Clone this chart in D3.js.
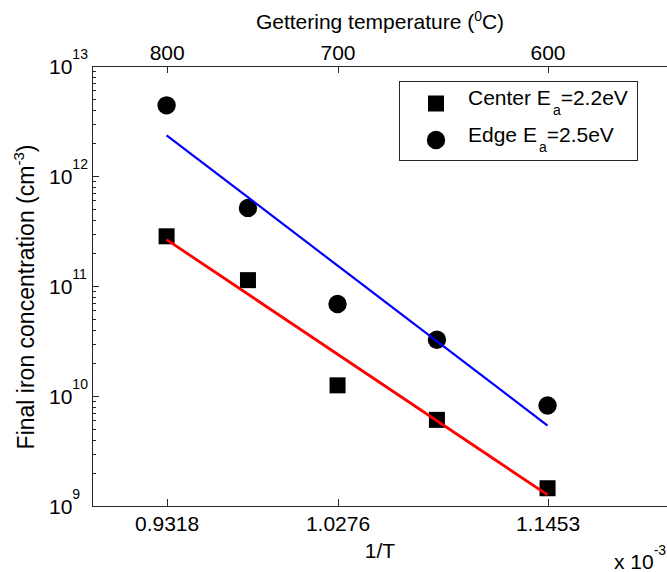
<!DOCTYPE html>
<html><head><meta charset="utf-8">
<script src="https://cdn.jsdelivr.net/npm/d3@7"></script>
<style>
body{margin:0;background:#fff}
text{font-family:"Liberation Sans",Arial,Helvetica,sans-serif;fill:#000}
</style>
</head><body><svg id="c" width="667" height="572"></svg>
<script>
// 1/T values (x 10^-3 K^-1)
const invT = [0.9318, 0.9774, 1.0276, 1.0833, 1.1453];
// Final iron concentration (cm^-3)
const centerFe = [2.83e11, 1.13e11, 1.25e10, 6.07e9, 1.45e9];
const edgeFe   = [4.39e12, 5.13e11, 6.86e10, 3.25e10, 8.19e9];
// Arrhenius fit lines (end points)
const fitX      = [0.9318, 1.1453];
const centerFit = [2.64e11, 1.26e9];
const edgeFit   = [2.34e12, 5.39e9];
// ticks
const xTicks = [0.9318, 1.0276, 1.1453];
const xTickLabels = ["0.9318", "1.0276", "1.1453"];
const tempTicks = [800, 700, 600];
const yTicks = [1e9, 1e10, 1e11, 1e12, 1e13];
const yTickExp = ["9", "10", "11", "12", "13"];
const xDomain = [0.89, 1.2128];
const yDomain = [1e9, 1e13];

const L = 92, T = 66, R = 668, B = 506;
const FS = 21;
const svg = d3.select("#c");
const x = d3.scaleLinear().domain(xDomain).range([L, R]);
const y = d3.scaleLog().domain(yDomain).range([B, T]);
const axisColor = "#262626";

// bottom axis
const gx = svg.append("g").attr("transform", `translate(0,${B})`)
  .call(d3.axisBottom(x).tickValues(xTicks).tickFormat((d, i) => xTickLabels[i]).tickSizeInner(-7).tickSizeOuter(0));
gx.selectAll("text").attr("y", 25).attr("dy", null).style("font-size", FS + "px").style("font-family", null);
// top axis (temperature)
const gt = svg.append("g").attr("transform", `translate(0,${T})`)
  .call(d3.axisTop(x).tickValues(tempTicks.map(t => 1000 / (t + 273.15))).tickFormat((d, i) => tempTicks[i]).tickSizeInner(-7).tickSizeOuter(0));
gt.selectAll("text").attr("y", -6).attr("dy", null).style("font-size", FS + "px").style("font-family", null);
// left axis major / minor
const minor = [];
yTicks.slice(0, -1).forEach(v => { for (let k = 2; k <= 9; k++) minor.push(v * k); });
const gy = svg.append("g").attr("transform", `translate(${L},0)`)
  .call(d3.axisLeft(y).tickValues(yTicks).tickFormat("").tickSizeInner(-7).tickSizeOuter(0));
const gym = svg.append("g").attr("transform", `translate(${L},0)`)
  .call(d3.axisLeft(y).tickValues(minor).tickFormat("").tickSizeInner(-4).tickSizeOuter(0));
gym.select(".domain").remove();
svg.selectAll(".domain, .tick line").attr("stroke", axisColor).attr("stroke-width", 1).attr("shape-rendering", "crispEdges");

// y tick labels 10^n
yTicks.forEach((v, i) => {
  const t = svg.append("text").attr("x", 49).attr("y", y(v) + 7.5).style("font-size", FS + "px");
  t.append("tspan").text("10");
  t.append("tspan").attr("dy", -15).style("font-size", "14px").text(yTickExp[i]);
});

// titles
const tt = svg.append("text").attr("x", (L + R) / 2).attr("y", 29).attr("text-anchor", "middle").style("font-size", FS + "px");
tt.append("tspan").text("Gettering temperature (");
tt.append("tspan").attr("dy", -8).style("font-size", "14px").text("0");
tt.append("tspan").attr("dy", 8).text("C)");

svg.append("text").attr("x", (L + R) / 2).attr("y", 558).attr("text-anchor", "middle").style("font-size", FS + "px").text("1/T");
const xm = svg.append("text").attr("x", 614).attr("y", 569).style("font-size", FS + "px");
xm.append("tspan").text("x 10");
xm.append("tspan").attr("dy", -14).style("font-size", "14px").text("-3");

const yl = svg.append("text").attr("transform", `translate(34,297) rotate(-90)`).attr("text-anchor", "middle").style("font-size", "23px");
yl.append("tspan").text("Final iron concentration (cm");
yl.append("tspan").attr("dy", -10).style("font-size", "15px").text("-3");
yl.append("tspan").attr("dy", 10).text(")");

// fit lines
const line = d3.line().x(d => x(d[0])).y(d => y(d[1]));
// markers
const SQ = 16, CR = 9.2;
svg.append("g").selectAll("rect").data(d3.zip(invT, centerFe)).join("rect")
  .attr("x", d => x(d[0]) - SQ / 2).attr("y", d => y(d[1]) - SQ / 2).attr("width", SQ).attr("height", SQ).attr("fill", "#000");
svg.append("g").selectAll("circle").data(d3.zip(invT, edgeFe)).join("circle")
  .attr("cx", d => x(d[0])).attr("cy", d => y(d[1])).attr("r", CR).attr("fill", "#000");
svg.append("path").datum(d3.zip(fitX, edgeFit)).attr("d", line).attr("fill", "none").attr("stroke", "#0000ff").attr("stroke-width", 2.2);
svg.append("path").datum(d3.zip(fitX, centerFit)).attr("d", line).attr("fill", "none").attr("stroke", "#ff0000").attr("stroke-width", 2.8);

// legend
const lg = svg.append("g");
lg.append("rect").attr("x", 399.5).attr("y", 81.5).attr("width", 238).attr("height", 79).attr("fill", "#fff").attr("stroke", axisColor).attr("stroke-width", 1);
lg.append("rect").attr("x", 436 - SQ / 2).attr("y", 103.5 - SQ / 2).attr("width", SQ).attr("height", SQ).attr("fill", "#000");
lg.append("circle").attr("cx", 436).attr("cy", 140).attr("r", CR).attr("fill", "#000");
const legendItems = [["Center E", "a", "=2.2eV", 105.3], ["Edge E", "a", "=2.5eV", 142]];
legendItems.forEach(d => {
  const t = lg.append("text").attr("x", 468).attr("y", d[3]).style("font-size", FS + "px");
  t.append("tspan").text(d[0]);
  t.append("tspan").attr("dx", 2).attr("dy", 10).style("font-size", "14px").text(d[1]);
  t.append("tspan").attr("dy", -10).text(d[2]);
});
</script></body></html>
